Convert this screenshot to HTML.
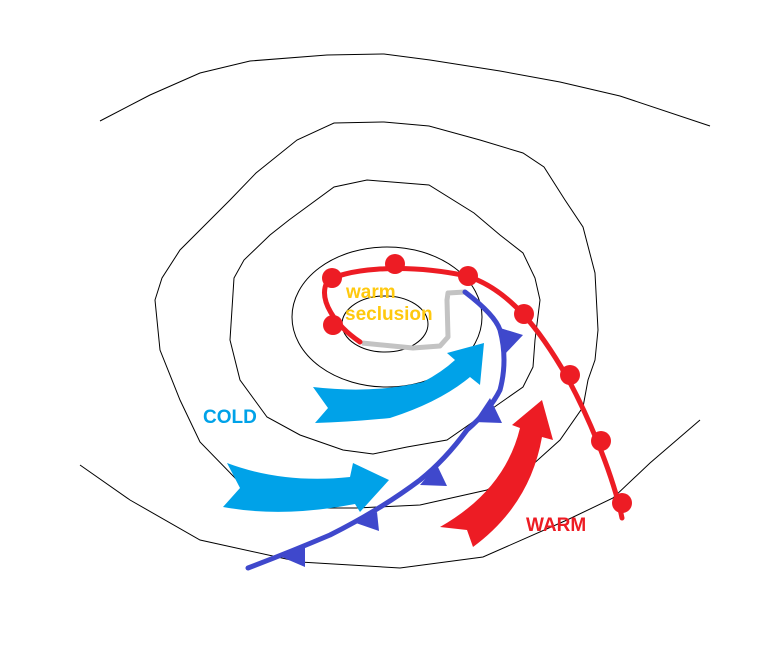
<!DOCTYPE html>
<html><head><meta charset="utf-8"><style>
html,body{margin:0;padding:0;background:#fff;}
svg{display:block;}
text{font-family:"Liberation Sans",sans-serif;font-weight:bold;}
</style></head><body>
<svg width="782" height="671" viewBox="0 0 782 671" xmlns="http://www.w3.org/2000/svg">
<g fill="none" stroke="#000" stroke-width="1">
<polyline points="100,121 150,95 200,73 250,61 327,55 384,54 430,60 500,71 560,82 620,96 710,126"/>
<polyline points="80,465 130,500 200,540 300,562 400,568 483,557 567,520 613,498 650,463 700,420"/>
<polygon points="334,123 384,122 429,126 480,140 523,153 544,167 565,200 583,227 595,273 598,330 595,360 588,380 583,407 560,440 530,467 487,490 420,505 357,508 317,508 270,495 237,480 200,442 180,400 160,350 155,300 162,278 180,250 203,227 230,200 256,173 297,140"/>
<polygon points="367,180 429,185 474,213 500,235 523,253 535,278 540,300 535,340 533,367 523,387 493,408 447,440 407,447 373,454 343,450 300,435 267,417 240,380 230,340 234,278 244,260 270,235 289,220 334,187"/>
<ellipse cx="387" cy="317" rx="95" ry="70"/>
<ellipse cx="385" cy="324" rx="43" ry="28"/>
</g>
<polyline points="362,343 413,348 440,346 448,337 447,300 448,293 465,292" fill="none" stroke="#c3c3c3" stroke-width="5" stroke-linejoin="round"/>
<g fill="#ed1c24">
<path d="M360,342 C335,325 318,300 327,282 C340,270 400,262 467,276 C510,290 540,330 567,377 C585,410 612,470 622,518" fill="none" stroke="#ed1c24" stroke-width="5" stroke-linecap="round"/>
<circle cx="333" cy="325" r="10"/>
<circle cx="332" cy="278" r="10"/>
<circle cx="395" cy="264" r="10"/>
<circle cx="468" cy="276" r="10"/>
<circle cx="524" cy="314" r="10"/>
<circle cx="570" cy="375" r="10"/>
<circle cx="601" cy="441" r="10"/>
<circle cx="622" cy="503" r="10"/>
<path d="M440,527 Q505,490 520,428 L512,425 L542,400 L553,440 L542,437 Q530,505 473,547 L467,530 Z"/>
</g>
<g fill="#3f48cc">
<path d="M465,292 Q495,315 500,330 Q508,360 500,390 Q490,410 467,430 Q445,460 420,480 Q380,510 330,535 Q290,552 248,568" fill="none" stroke="#3f48cc" stroke-width="5" stroke-linecap="round"/>
<polygon points="500,328 523,335 505,354"/>
<polygon points="490,398 502,423 474,422"/>
<polygon points="437,465 447,486 420,485"/>
<polygon points="353,522 377,512 379,531"/>
<polygon points="277,555 305,546 305,567"/>
</g>
<g fill="#00a2e8">
<path d="M313,387 Q373,394 423,382 Q442,372 455,360 L447,353 L484,343 L480,385 L470,377 Q440,402 390,418 Q350,422 315,423 L328,408 Z"/>
<path d="M227,463 Q283,484 350,477 L353,463 L389,480 L360,512 L355,504 Q283,518 223,507 L240,488 Z"/>
</g>
<text x="203" y="423" font-size="19" fill="#00a2e8">COLD</text>
<text x="526" y="531" font-size="19" fill="#ed1c24">WARM</text>
<text x="346" y="298" font-size="19" fill="#ffc90e">warm</text>
<text x="345" y="320" font-size="19" fill="#ffc90e">seclusion</text>
</svg>
</body></html>
